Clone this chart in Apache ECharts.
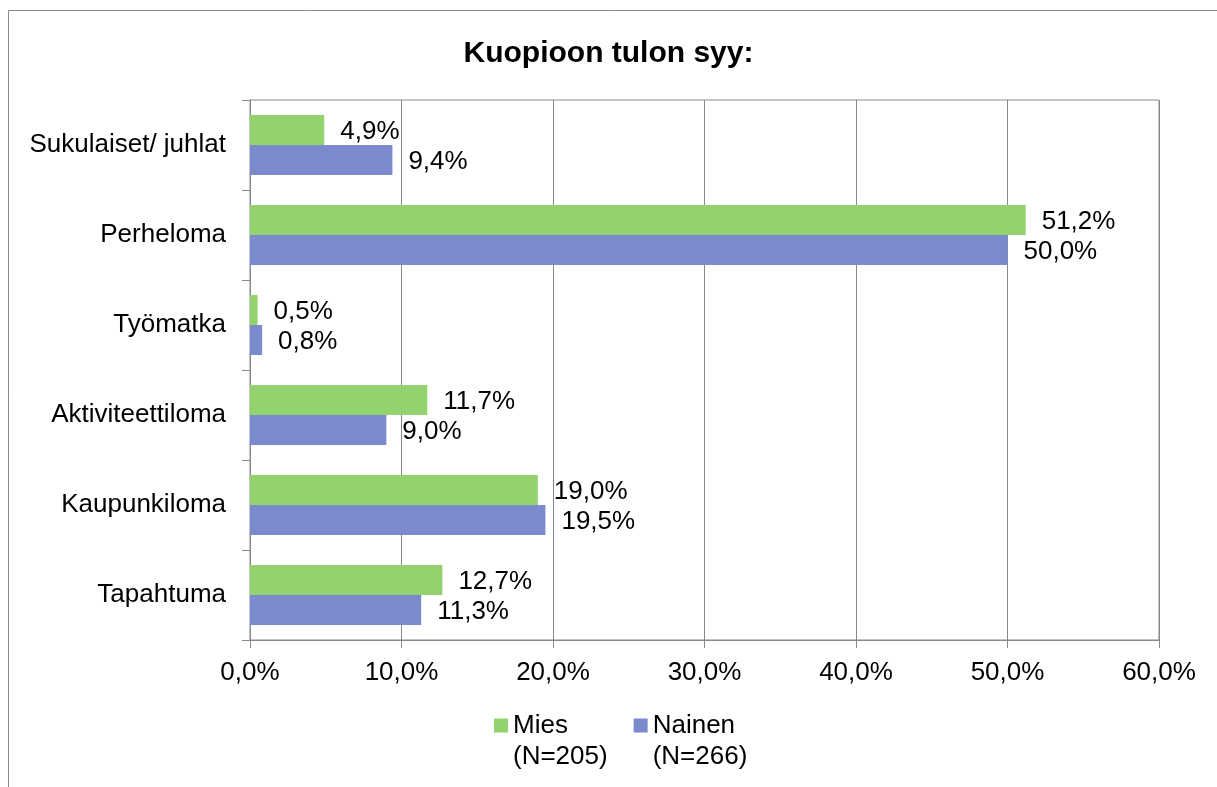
<!DOCTYPE html>
<html>
<head>
<meta charset="utf-8">
<script src="https://cdn.jsdelivr.net/npm/echarts@6/dist/echarts.min.js"></script>
<style>
  html, body { margin: 0; padding: 0; background: #fff; }
  #main { width: 1217px; height: 787px; }
</style>
</head>
<body>
<div id="main"></div>
<script>
  // kategoriat ylhäältä alas
  const categories = ['Sukulaiset/ juhlat', 'Perheloma', 'Työmatka', 'Aktiviteettiloma', 'Kaupunkiloma', 'Tapahtuma'];
  const miesValues = [4.9, 51.2, 0.5, 11.7, 19.0, 12.7];
  const nainenValues = [9.4, 50.0, 0.8, 9.0, 19.5, 11.3];
  const seriesNames = ['Mies\n(N=205)', 'Nainen\n(N=266)'];
  const xTicks = [0, 10, 20, 30, 40, 50, 60];

  const fmt = function (v) {
    return v.toFixed(1).replace('.', ',') + '%';
  };

  const chart = echarts.init(document.getElementById('main'));
  const font = "'Liberation Sans', Arial, sans-serif";

  chart.setOption({
    backgroundColor: '#fff',
    textStyle: { fontFamily: font },
    title: {
      text: 'Kuopioon tulon syy:',
      left: 'center',
      top: 34,
      textStyle: { fontFamily: font, fontSize: 30, fontWeight: 'bold', color: '#000' }
    },
    legend: {
      left: 494,
      top: 679,
      padding: 0,
      itemWidth: 14,
      itemHeight: 14,
      itemGap: 26,
      icon: 'rect',
      data: seriesNames,
      // tyhjä rivi ylös, jotta neliö osuu ensimmäisen rivin kohdalle
      formatter: function (name) { return ' \n' + name; },
      textStyle: { fontFamily: font, fontSize: 26, color: '#000', lineHeight: 31 }
    },
    grid: {
      left: 250,
      right: 58,
      top: 100,
      bottom: 147,
      show: true,
      borderColor: '#888',
      borderWidth: 1
    },
    xAxis: {
      type: 'value',
      min: xTicks[0],
      max: xTicks[xTicks.length - 1],
      interval: 10,
      axisLine: { show: true, lineStyle: { color: '#888' } },
      axisTick: { show: true, length: 8, lineStyle: { color: '#888' } },
      splitLine: { show: true, lineStyle: { color: '#888', width: 1 } },
      axisLabel: {
        margin: 20,
        fontFamily: font,
        fontSize: 26,
        color: '#000',
        formatter: function (v) { return fmt(v); }
      }
    },
    yAxis: {
      type: 'category',
      inverse: true,
      data: categories,
      axisLine: { show: true, lineStyle: { color: '#888' } },
      axisTick: { show: true, length: 8, lineStyle: { color: '#888' } },
      axisLabel: { margin: 24, fontFamily: font, fontSize: 26, color: '#000' }
    },
    series: [
      {
        name: seriesNames[0],
        type: 'bar',
        data: miesValues,
        barWidth: 30,
        barGap: '0%',
        barCategoryGap: '33%',
        itemStyle: { color: '#92D36E' },
        label: {
          show: true,
          position: 'right',
          distance: 16,
          offset: [0, 2],
          fontFamily: font,
          fontSize: 26,
          color: '#000',
          formatter: function (p) { return fmt(p.value); }
        }
      },
      {
        name: seriesNames[1],
        type: 'bar',
        data: nainenValues,
        barWidth: 30,
        barGap: '0%',
        barCategoryGap: '33%',
        itemStyle: { color: '#7B89CD' },
        label: {
          show: true,
          position: 'right',
          distance: 16,
          offset: [0, 2],
          fontFamily: font,
          fontSize: 26,
          color: '#000',
          formatter: function (p) { return fmt(p.value); }
        }
      }
    ],
    graphic: [
      {
        type: 'polyline',
        silent: true,
        shape: { points: [[8.5, 787], [8.5, 10.5], [1217, 10.5]] },
        style: { stroke: '#888', lineWidth: 1, fill: null }
      }
    ]
  });
</script>
</body>
</html>
